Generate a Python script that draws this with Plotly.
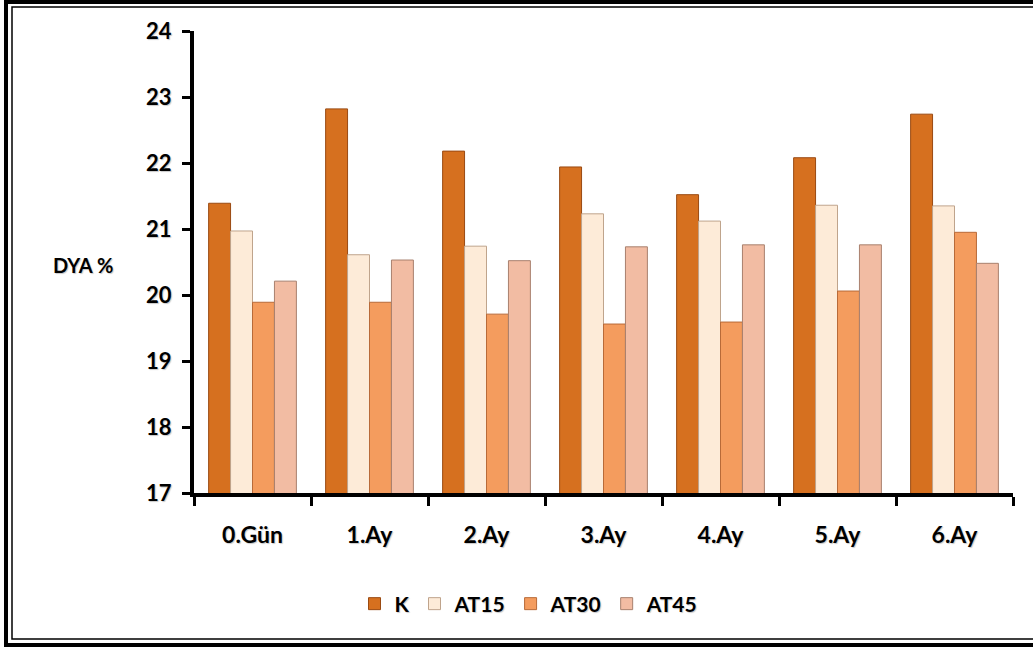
import plotly.graph_objects as go

categories = ["0.Gün", "1.Ay", "2.Ay", "3.Ay", "4.Ay", "5.Ay", "6.Ay"]
series_names = ["K", "AT15", "AT30", "AT45"]
K = [21.39, 22.82, 22.18, 21.94, 21.52, 22.08, 22.74]
AT15 = [20.97, 20.61, 20.74, 21.23, 21.12, 21.36, 21.35]
AT30 = [19.89, 19.89, 19.71, 19.56, 19.59, 20.06, 20.95]
AT45 = [20.21, 20.53, 20.52, 20.73, 20.76, 20.76, 20.48]
y_ticks = [17, 18, 19, 20, 21, 22, 23, 24]

fills = ["#D6701F", "#FDEBD8", "#F49C5E", "#F2BCA3"]
edges = ["#9A4A12", "#BFA48C", "#B86A38", "#A8806E"]

W, H = 1033, 650
ml, mr, mt, mb = 194, 20, 31, 157
pw, ph = W - ml - mr, H - mt - mb

def px_x(p):
    return (p - ml) / pw

def px_y(p):
    return (H - mb - p) / ph

fig = go.Figure()
for name, vals, fc, ec in zip(series_names, [K, AT15, AT30, AT45], fills, edges):
    fig.add_trace(go.Bar(
        x=categories, y=vals, name=name,
        marker=dict(color=fc, line=dict(color=ec, width=1)),
    ))

shadow = "1px 1px 1px #c8c8c8"
fam = "Lato, 'Open Sans', sans-serif"

fig.update_layout(
    width=W, height=H,
    margin=dict(l=ml, r=mr, t=mt, b=mb),
    paper_bgcolor="white", plot_bgcolor="white",
    barmode="group", bargap=0.25, bargroupgap=0.0,
    showlegend=True,
    legend=dict(orientation="h", x=px_x(529), xanchor="center", y=px_y(604), yanchor="middle",
                font=dict(family=fam, size=21, color="black", weight="bold", shadow=shadow),
                itemwidth=30, tracegroupgap=0, traceorder="normal"),
    xaxis=dict(
        type="category", showline=True, linecolor="black", linewidth=4,
        ticks="outside", ticklen=9, tickwidth=3, tickcolor="black",
        tickson="boundaries", showgrid=False, zeroline=False,
        tickfont=dict(family=fam, size=23, color="black", weight="bold", shadow=shadow),
        ticklabelstandoff=18,
    ),
    yaxis=dict(
        range=[17, 24], tickvals=y_ticks, ticktext=[str(t) for t in y_ticks],
        showline=True, linecolor="black", linewidth=4,
        ticks="outside", ticklen=8, tickwidth=3, tickcolor="black",
        showgrid=False, zeroline=False,
        tickfont=dict(family=fam, size=22, color="black", weight="bold", shadow=shadow),
        ticklabelstandoff=6,
    ),
    annotations=[dict(
        text="DYA %", xref="paper", yref="paper", x=px_x(83), y=px_y(265),
        xanchor="center", yanchor="middle", showarrow=False,
        font=dict(family=fam, size=20, color="black", weight="bold", shadow=shadow),
    )],
    shapes=[
        dict(type="rect", xref="paper", yref="paper",
             x0=px_x(6), x1=px_x(1045), y0=px_y(645), y1=px_y(2),
             line=dict(color="black", width=4), layer="above"),
        dict(type="rect", xref="paper", yref="paper",
             x0=px_x(12), x1=px_x(1040), y0=px_y(639), y1=px_y(7),
             line=dict(color="black", width=1.5), layer="above"),
    ],
)

fig.write_html("out.html", config={"displayModeBar": False},
               post_script="document.body.style.margin='0';")
